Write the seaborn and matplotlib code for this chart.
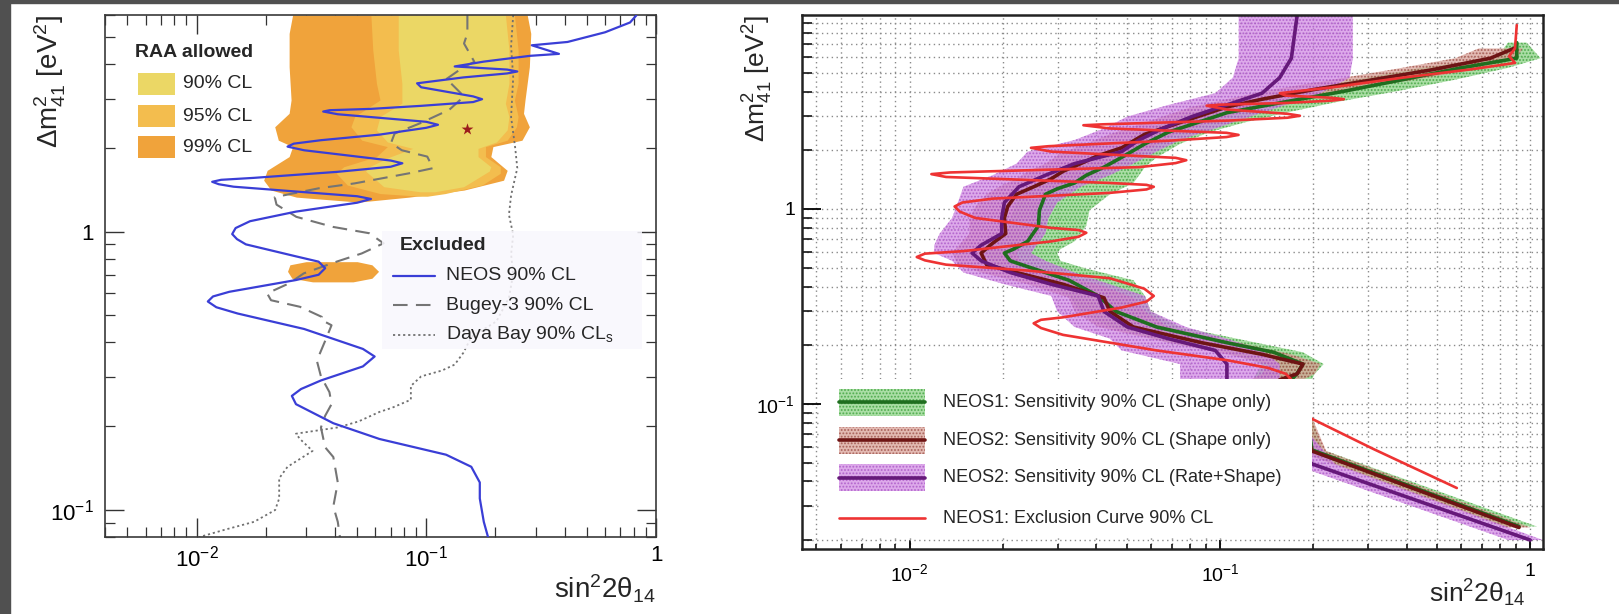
import numpy as np
import matplotlib
matplotlib.use('Agg')
import matplotlib.pyplot as plt
from matplotlib.patches import Rectangle
from matplotlib.ticker import LogLocator, FuncFormatter, NullFormatter
import seaborn as sns

# ============================================================
# left panel data
# ============================================================
neos_dm2 = [5.98, 5.64, 5.20, 4.80, 4.67, 4.35, 4.28, 4.08, 3.92, 3.82, 3.76, 3.70, 3.58, 3.41, 3.30,
            3.06, 2.99, 2.92, 2.83, 2.76, 2.73, 2.70, 2.64, 2.48, 2.42, 2.36, 2.23, 2.13, 2.07, 2.02,
            1.96, 1.80, 1.76, 1.71, 1.64, 1.56, 1.535, 1.51, 1.48, 1.45, 1.34, 1.31, 1.27, 1.18, 1.09,
            1.03, 0.98, 0.94, 0.90, 0.815, 0.78, 0.739, 0.70, 0.67, 0.608, 0.585, 0.561, 0.535, 0.508,
            0.447, 0.379, 0.356, 0.328, 0.292, 0.272, 0.257, 0.240, 0.205, 0.180, 0.158, 0.143, 0.1256,
            0.110, 0.0907, 0.0796]
neos_sin2 = [0.821, 0.771, 0.600, 0.412, 0.288, 0.378, 0.283, 0.178, 0.133, 0.225, 0.249, 0.225, 0.145,
             0.0912, 0.095, 0.16, 0.175, 0.16, 0.095, 0.0575, 0.038, 0.0356, 0.0412, 0.10, 0.1125, 0.10,
             0.0625, 0.0348, 0.0265, 0.0249, 0.0294, 0.070, 0.0787, 0.070, 0.0412, 0.0178, 0.0128,
             0.0117, 0.0125, 0.0145, 0.050, 0.0575, 0.050, 0.0271, 0.0171, 0.0148, 0.0143, 0.0150,
             0.0164, 0.0271, 0.034, 0.0363, 0.034, 0.0271, 0.0139, 0.0118, 0.0112, 0.0122, 0.0151,
             0.0294, 0.053, 0.0596, 0.053, 0.0348, 0.0285, 0.026, 0.0271, 0.0394, 0.0625, 0.122, 0.157,
             0.171, 0.171, 0.178, 0.186]

bugey_dm2 = [6.0, 5.15, 4.74, 4.07, 3.91, 3.51, 3.41, 3.06, 2.74, 2.45, 2.25, 2.08, 1.96, 1.86, 1.69,
             1.62, 1.49, 1.43, 1.33, 1.25, 1.13, 1.04, 0.987, 0.908, 0.835, 0.780, 0.708, 0.652, 0.600,
             0.567, 0.537, 0.494, 0.483, 0.461, 0.405, 0.344, 0.302, 0.265, 0.240, 0.218, 0.198, 0.168,
             0.155, 0.1256, 0.103, 0.0907, 0.08]
bugey_sin2 = [0.151, 0.151, 0.146, 0.162, 0.146, 0.121, 0.128, 0.146, 0.126, 0.094, 0.0728, 0.0702,
              0.0783, 0.101, 0.107, 0.0842, 0.0487, 0.0339, 0.0219, 0.0223, 0.0272, 0.0392, 0.0564,
              0.0652, 0.0524, 0.0407, 0.0293, 0.0253, 0.0203, 0.0211, 0.0282, 0.0351, 0.0348, 0.0387,
              0.0363, 0.0334, 0.0348, 0.0379, 0.0387, 0.0363, 0.0348, 0.0363, 0.0394, 0.0412, 0.0394,
              0.0412, 0.0421]

dyb_dm2 = [6.0, 4.64, 3.58, 2.58, 1.99, 1.69, 1.35, 1.15, 0.974, 0.828, 0.704, 0.579, 0.476, 0.418,
           0.367, 0.333, 0.317, 0.302, 0.279, 0.249, 0.233, 0.225, 0.208, 0.198, 0.188, 0.180, 0.163,
           0.143, 0.130, 0.110, 0.100, 0.0907, 0.085, 0.08]
dyb_sin2 = [0.239, 0.234, 0.239, 0.234, 0.244, 0.249, 0.234, 0.229, 0.239, 0.234, 0.239, 0.229, 0.202,
            0.157, 0.145, 0.133, 0.117, 0.095, 0.0857, 0.0857, 0.071, 0.0625, 0.0507, 0.0412, 0.0271,
            0.0282, 0.032, 0.0249, 0.0229, 0.0229, 0.022, 0.0178, 0.0133, 0.0103]

# RAA allowed regions (left / right edge at each dm2)
raa99_dm2 = [6.0, 5.15, 3.91, 2.97, 2.66, 2.38, 2.13, 2.02, 1.86, 1.66, 1.53, 1.41, 1.33, 1.28]
raa99_lo = [0.0262, 0.0253, 0.0253, 0.0258, 0.0253, 0.0219, 0.0227, 0.0262, 0.0253, 0.0203, 0.0196,
            0.0211, 0.0272, 0.0488]
raa99_hi = [0.275, 0.285, 0.281, 0.269, 0.265, 0.281, 0.261, 0.195, 0.191, 0.225, 0.217, 0.146,
            0.0841, 0.0525]
island_dm2 = [0.78, 0.76, 0.72, 0.68, 0.66]
island_lo = [0.030, 0.0255, 0.0249, 0.026, 0.032]
island_hi = [0.050, 0.058, 0.062, 0.058, 0.048]
raa95_dm2 = [6.0, 4.49, 3.41, 2.97, 2.59, 2.38, 2.13, 2.02, 1.86, 1.71, 1.62, 1.47, 1.37, 1.34]
raa95_lo = [0.0574, 0.0585, 0.0607, 0.0629, 0.0488, 0.0470, 0.0524, 0.0677, 0.0607, 0.0437, 0.0406,
            0.0453, 0.0629, 0.0940]
raa95_hi = [0.242, 0.251, 0.251, 0.242, 0.251, 0.247, 0.225, 0.181, 0.181, 0.210, 0.210, 0.175,
            0.121, 0.101]
raa90_dm2 = [6.0, 4.49, 3.41, 2.89, 2.59, 2.32, 2.10, 1.99, 1.86, 1.71, 1.65, 1.45, 1.39]
raa90_lo = [0.0755, 0.0755, 0.0783, 0.0783, 0.0629, 0.0607, 0.0677, 0.0873, 0.0702, 0.0564, 0.0544,
            0.0653, 0.0940]
raa90_hi = [0.221, 0.229, 0.229, 0.221, 0.229, 0.225, 0.202, 0.168, 0.168, 0.191, 0.188, 0.1455,
            0.1087]
best_fit = (0.150, 2.33)

raa_labels = ['90% CL', '95% CL', '99% CL']
excl_labels = ['NEOS 90% CL', 'Bugey-3 90% CL', r'Daya Bay 90% CL$_\mathregular{s}$']

# ============================================================
# right panel data
# ============================================================
green_dm2 = [7.14, 5.94, 5.30, 4.61, 4.02, 3.55, 3.12, 2.78, 2.48, 2.16, 1.84, 1.64, 1.49, 1.36, 1.27,
             1.19, 0.986, 0.820, 0.682, 0.622, 0.594, 0.542, 0.494, 0.431, 0.358, 0.298, 0.248, 0.206,
             0.184, 0.160, 0.1426, 0.124, 0.09, 0.058, 0.0235]
green_sin2 = [0.905, 0.905, 0.599, 0.388, 0.251, 0.163, 0.1053, 0.0848, 0.0682, 0.0573, 0.0482, 0.0423,
              0.0371, 0.0340, 0.0299, 0.0274, 0.0262, 0.0260, 0.0240, 0.0216, 0.0202, 0.0211, 0.0251,
              0.0326, 0.0405, 0.0462, 0.0625, 0.1053, 0.149, 0.185, 0.177, 0.163, 0.19, 0.198, 0.92]
green_lo = [0.848, 0.777, 0.442, 0.274, 0.177, 0.120, 0.0812, 0.0653, 0.0549, 0.0482, 0.0405, 0.0348,
            0.0299, 0.0262, 0.0240, 0.0225, 0.0216, 0.0207, 0.0189, 0.0177, 0.0174, 0.0181, 0.0202,
            0.0262, 0.0326, 0.0356, 0.0442, 0.0682, 0.1053, 0.1367, 0.1309, 0.1253, 0.16, 0.175, 0.83]
green_hi = [0.974, 1.08, 0.848, 0.573, 0.371, 0.240, 0.163, 0.120, 0.0925, 0.0744, 0.0625, 0.0573,
            0.0549, 0.0526, 0.0482, 0.0442, 0.0380, 0.0371, 0.0340, 0.0306, 0.0299, 0.0306, 0.0371,
            0.0526, 0.0573, 0.0599, 0.0744, 0.1309, 0.185, 0.216, 0.202, 0.1935, 0.195, 0.215, 1.05]

brown_dm2 = [6.67, 5.94, 5.18, 4.61, 4.11, 3.66, 3.34, 2.98, 2.65, 2.42, 2.06, 1.88, 1.71, 1.56, 1.43,
             1.30, 1.19, 1.03, 0.90, 0.748, 0.667, 0.594, 0.518, 0.472, 0.411, 0.350, 0.298, 0.248,
             0.206, 0.1795, 0.160, 0.1426, 0.133, 0.09, 0.0573, 0.0232]
brown_sin2 = [0.8855, 0.7442, 0.4820, 0.3121, 0.2021, 0.1367, 0.1053, 0.0848, 0.0682, 0.0573, 0.0482,
              0.0405, 0.0356, 0.0312, 0.0286, 0.0251, 0.0221, 0.0207, 0.0202, 0.0204, 0.0185, 0.0170,
              0.0177, 0.0221, 0.0312, 0.0423, 0.0442, 0.0526, 0.0873, 0.1367, 0.1853, 0.1774, 0.1558,
              0.18, 0.198, 0.92]
brown_lo = [0.6823, 0.5734, 0.3556, 0.2303, 0.1491, 0.1053, 0.0812, 0.0653, 0.0526, 0.0442, 0.0340,
            0.0299, 0.0274, 0.0240, 0.0221, 0.0194, 0.0177, 0.0163, 0.0156, 0.0156, 0.0146, 0.0137,
            0.0143, 0.0170, 0.0240, 0.0326, 0.0340, 0.0405, 0.0682, 0.1053, 0.1428, 0.1367, 0.1253,
            0.16, 0.178, 0.83]
brown_hi = [0.9452, 0.9049, 0.6533, 0.4230, 0.2740, 0.1853, 0.1367, 0.1053, 0.0848, 0.0713, 0.0599,
            0.0526, 0.0462, 0.0405, 0.0371, 0.0326, 0.0286, 0.0262, 0.0257, 0.0262, 0.0240, 0.0221,
            0.0230, 0.0286, 0.0405, 0.0526, 0.0573, 0.0682, 0.1149, 0.1699, 0.2111, 0.2021, 0.1853,
            0.195, 0.22, 1.0]

purple_dm2 = [9.9, 5.94, 4.72, 3.93, 3.42, 2.98, 2.59, 2.26, 1.97, 1.71, 1.49, 1.30, 1.08, 0.90,
              0.748, 0.652, 0.594, 0.542, 0.472, 0.411, 0.358, 0.298, 0.248, 0.216, 0.188, 0.160,
              0.133, 0.09, 0.0492, 0.0200]
purple_sin2 = [0.1774, 0.1699, 0.1558, 0.1367, 0.1053, 0.0812, 0.0653, 0.0549, 0.0482, 0.0340, 0.0274,
               0.0225, 0.0202, 0.0198, 0.0198, 0.0170, 0.0159, 0.0170, 0.0211, 0.0286, 0.0405, 0.0423,
               0.0503, 0.0682, 0.0966, 0.1053, 0.1053, 0.14, 0.198, 1.0]
purple_lo = [0.1149, 0.1149, 0.1100, 0.0966, 0.0682, 0.0503, 0.0423, 0.0340, 0.0240, 0.0221, 0.0185,
             0.0149, 0.0143, 0.0137, 0.0125, 0.0120, 0.0120, 0.0137, 0.0149, 0.0202, 0.0286, 0.0299,
             0.0340, 0.0442, 0.0482, 0.0744, 0.0744, 0.12, 0.17, 0.85]
purple_hi = [0.268, 0.268, 0.262, 0.211, 0.163, 0.1253, 0.0966, 0.0744, 0.0625, 0.0526, 0.0442, 0.0356,
             0.0299, 0.0280, 0.0274, 0.0257, 0.0246, 0.0274, 0.0340, 0.0442, 0.0573, 0.0599, 0.0777,
             0.1053, 0.1367, 0.1558, 0.1558, 0.17, 0.235, 1.1]

red_dm2 = [8.79, 6.67, 6.08, 5.62, 5.22, 4.72, 4.21, 3.93, 3.82, 3.72, 3.66, 3.60, 3.50, 3.43, 3.39,
           3.24, 3.08, 3.01, 2.94, 2.84, 2.72, 2.69, 2.59, 2.46, 2.40, 2.34, 2.24, 2.10, 2.06, 1.97,
           1.83, 1.78, 1.72, 1.64, 1.54, 1.51, 1.46, 1.36, 1.33, 1.30, 1.26, 1.21, 1.13, 1.08, 1.03,
           0.97, 0.90, 0.80, 0.78, 0.755, 0.72, 0.682, 0.608, 0.59, 0.567, 0.545, 0.518, 0.483, 0.441,
           0.39, 0.358, 0.335, 0.312, 0.278, 0.27, 0.259, 0.245, 0.226, 0.188, 0.1675, 0.153, 0.1426,
           0.133, 0.086, 0.0838, 0.0587, 0.037]
red_sin2 = [0.905, 0.893, 0.855, 0.893, 0.653, 0.388, 0.230, 0.156, 0.163, 0.23, 0.251, 0.23, 0.163,
            0.10, 0.0906, 0.1054, 0.165, 0.181, 0.165, 0.1054, 0.042, 0.0363, 0.0442, 0.105, 0.1148,
            0.105, 0.0682, 0.028, 0.0246, 0.0286, 0.072, 0.0779, 0.072, 0.0550, 0.0135, 0.01175,
            0.0131, 0.0442, 0.058, 0.0612, 0.058, 0.0442, 0.0185, 0.0148, 0.01396, 0.0145, 0.01626,
            0.0286, 0.035, 0.0371, 0.035, 0.0286, 0.01493, 0.0112, 0.01054, 0.0112, 0.0131, 0.0240,
            0.0442, 0.057, 0.0612, 0.058, 0.0482, 0.0312, 0.0265, 0.0251, 0.0265, 0.0312, 0.0625,
            0.1054, 0.143, 0.163, 0.170, 0.194, 0.198, 0.312, 0.58]

sens_labels = ['NEOS1: Sensitivity 90% CL (Shape only)',
               'NEOS2: Sensitivity 90% CL (Shape only)',
               'NEOS2: Sensitivity 90% CL (Rate+Shape)',
               'NEOS1: Exclusion Curve 90% CL']

# ============================================================
# style
# ============================================================
sns.set_theme(style='white')
plt.rcParams['font.family'] = ['Liberation Sans', 'DejaVu Sans']
plt.rcParams['mathtext.fontset'] = 'custom'
plt.rcParams['mathtext.rm'] = 'Liberation Sans'
plt.rcParams['mathtext.it'] = 'Liberation Sans:italic'
plt.rcParams['mathtext.bf'] = 'Liberation Sans:bold'
plt.rcParams['hatch.linewidth'] = 0.9

fig = plt.figure(figsize=(16.19, 6.14), dpi=100)
fig.patches.append(Rectangle((0, 0), 10 / 1619, 1, transform=fig.transFigure, color='#505050'))
fig.patches.append(Rectangle((0, 1 - 3 / 614), 1, 3 / 614, transform=fig.transFigure, color='#505050'))

ax1 = fig.add_axes([0.0649, 0.1254, 0.3403, 0.8502])
ax2 = fig.add_axes([0.4954, 0.1059, 0.4577, 0.8697])


def log_label(v, pos):
    if np.isclose(v, 1):
        return '1'
    return r'$\mathregular{10^{%d}}$' % int(round(np.log10(v)))


for ax in (ax1, ax2):
    ax.set_xscale('log')
    ax.set_yscale('log')
    for axis in (ax.xaxis, ax.yaxis):
        axis.set_major_locator(LogLocator(base=10, numticks=10))
        axis.set_minor_locator(LogLocator(base=10, subs=np.arange(2, 10), numticks=20))
        axis.set_major_formatter(FuncFormatter(log_label))
        axis.set_minor_formatter(NullFormatter())

# ------ left: RAA / NEOS / Bugey / Daya Bay ------
c99, c95, c90 = '#f0a33b', '#f3bd4e', '#ebd765'
ax1.set_xlim(0.004, 1)
ax1.set_ylim(0.08, 6)
ax1.fill_betweenx(raa99_dm2, raa99_lo, raa99_hi, color=c99, lw=0, zorder=1)
ax1.fill_betweenx(island_dm2, island_lo, island_hi, color=c99, lw=0, zorder=1)
ax1.fill_betweenx(raa95_dm2, raa95_lo, raa95_hi, color=c95, lw=0, zorder=1)
ax1.fill_betweenx(raa90_dm2, raa90_lo, raa90_hi, color=c90, lw=0, zorder=1)

sns.lineplot(x=dyb_sin2, y=dyb_dm2, sort=False, estimator=None, ax=ax1,
             color='#707070', lw=1.3, linestyle=(0, (1.2, 1.6)), zorder=2)
sns.lineplot(x=bugey_sin2, y=bugey_dm2, sort=False, estimator=None, ax=ax1,
             color='#757575', lw=1.5, linestyle=(0, (7, 4)), zorder=2)
sns.lineplot(x=neos_sin2, y=neos_dm2, sort=False, estimator=None, ax=ax1,
             color='#3a3ed6', lw=1.6, zorder=3)
ax1.scatter([best_fit[0]], [best_fit[1]], marker='*', s=80, color='#9b1c1c', zorder=4, linewidths=0)

ax1.text(0.054, 0.929, 'RAA allowed', transform=ax1.transAxes, fontsize=14,
         fontweight='bold', va='center', ha='left')
for yb, col, lab, yt in zip([0.847, 0.785, 0.726], [c90, c95, c99], raa_labels, [0.868, 0.806, 0.747]):
    ax1.add_patch(Rectangle((0.060, yb), 0.067, 0.042, transform=ax1.transAxes,
                            facecolor=col, lw=0, zorder=5))
    ax1.text(0.1416, yt, lab, transform=ax1.transAxes, fontsize=14, va='center', ha='left')

ax1.add_patch(Rectangle((0.503, 0.360), 0.472, 0.226, transform=ax1.transAxes,
                        facecolor='#f9f7fd', alpha=0.85, lw=0, zorder=5))
ax1.text(0.534, 0.559, 'Excluded', transform=ax1.transAxes, fontsize=14,
         fontweight='bold', va='center', ha='left', zorder=6)
excl_styles = [dict(color='#3a3ed6', lw=1.6, ls='-'),
               dict(color='#757575', lw=1.5, ls=(0, (7, 4))),
               dict(color='#707070', lw=1.3, ls=(0, (1.2, 1.6)))]
for yr, st, lab in zip([0.500, 0.444, 0.387], excl_styles, excl_labels):
    ax1.plot([0.523, 0.599], [yr, yr], transform=ax1.transAxes, zorder=6, **st)
    ax1.text(0.619, yr, lab, transform=ax1.transAxes, fontsize=14, va='center', ha='left', zorder=6)

ax1.tick_params(which='both', direction='in', top=True, right=True, bottom=True, left=True,
                colors='#333333', labelcolor='black')
ax1.tick_params(which='major', length=14, width=1.0, labelsize=16)
ax1.tick_params(which='minor', length=7, width=0.9)
ax1.tick_params(axis='x', which='major', pad=6)
ax1.tick_params(axis='y', which='major', pad=8)
for s in ax1.spines.values():
    s.set_color('#3a3a3a')
    s.set_linewidth(1.2)
ax1.set_xlabel(r'$\mathregular{sin^{2}2\theta_{14}}$', fontsize=20, loc='right')
ax1.xaxis.set_label_coords(1.0, -0.068)
ax1.set_ylabel(r'$\mathregular{\Delta m^{2}_{41}\ [eV^{2}]}$', fontsize=20, loc='top')
ax1.yaxis.set_label_coords(-0.067, 1.0)

# ------ right: NEOS sensitivities ------
ax2.set_xlim(0.0045, 1.1)
ax2.set_ylim(0.018, 9.9)
ax2.set_axisbelow(True)
ax2.grid(True, which='both', color='#8a8a8a', ls=(0, (1, 2.5)), lw=1.0)

band_styles = [('#86d07f', '#2f9a2f', '#1f6e1f'),
               ('#d69c92', '#94423a', '#6e1414'),
               ('#cf85e2', '#a24ac2', '#66197a')]
bands = [(green_dm2, green_lo, green_hi, green_sin2),
         (brown_dm2, brown_lo, brown_hi, brown_sin2),
         (purple_dm2, purple_lo, purple_hi, purple_sin2)]
for (dm2, lo, hi, _), (face, hatch_col, _) in zip(bands, band_styles):
    ax2.fill_betweenx(dm2, lo, hi, facecolor=face, edgecolor=hatch_col, hatch='.....',
                      lw=0, alpha=0.7, zorder=1)
for (dm2, lo, hi, mid), (_, _, line_col) in zip(bands, band_styles):
    sns.lineplot(x=mid, y=dm2, sort=False, estimator=None, ax=ax2,
                 color=line_col, lw=2.6, zorder=2)
sns.lineplot(x=red_sin2, y=red_dm2, sort=False, estimator=None, ax=ax2,
             color='#ee3333', lw=1.9, zorder=3)

# legend box (opaque, hides the curves behind it)
ax2.add_patch(Rectangle((0.026, 0.0206), 0.662, 0.2984, transform=ax2.transAxes,
                        facecolor='white', lw=0, zorder=10))
rows = [0.275, 0.204, 0.133, 0.058]
for yr, (face, hatch_col, line_col), lab in zip(rows[:3], band_styles, sens_labels[:3]):
    ax2.add_patch(Rectangle((0.050, yr - 0.0253), 0.116, 0.0506, transform=ax2.transAxes,
                            facecolor=face, edgecolor=hatch_col, hatch='.....', lw=0,
                            alpha=0.7, zorder=11))
    ax2.plot([0.050, 0.166], [yr, yr], transform=ax2.transAxes, color=line_col, lw=2.6, zorder=12)
    ax2.text(0.190, yr, lab, transform=ax2.transAxes, fontsize=13, va='center', ha='left', zorder=12)
ax2.plot([0.050, 0.166], [rows[3], rows[3]], transform=ax2.transAxes, color='#ee3333', lw=1.9, zorder=12)
ax2.text(0.190, rows[3], sens_labels[3], transform=ax2.transAxes, fontsize=13,
         va='center', ha='left', zorder=12)

ax2.tick_params(which='both', direction='in', top=False, right=False, bottom=True, left=True,
                colors='black')
ax2.tick_params(axis='y', which='major', length=14, width=1.3, labelsize=14, pad=5)
ax2.tick_params(axis='y', which='minor', length=7, width=1.1)
ax2.tick_params(axis='x', which='major', length=6.5, width=1.3, labelsize=14, pad=10)
ax2.tick_params(axis='x', which='minor', length=3.6, width=1.1)
for s in ax2.spines.values():
    s.set_color('#222222')
    s.set_linewidth(1.8)
ax2.set_xlabel(r'$\mathregular{sin^{2}2\theta_{14}}$', fontsize=19, loc='right')
ax2.xaxis.set_label_coords(0.977, -0.054)
ax2.set_ylabel(r'$\mathregular{\Delta m^{2}_{41}\ [eV^{2}]}$', fontsize=19, loc='top')
ax2.yaxis.set_label_coords(-0.036, 1.0)

plt.savefig('out.png', dpi=100)
